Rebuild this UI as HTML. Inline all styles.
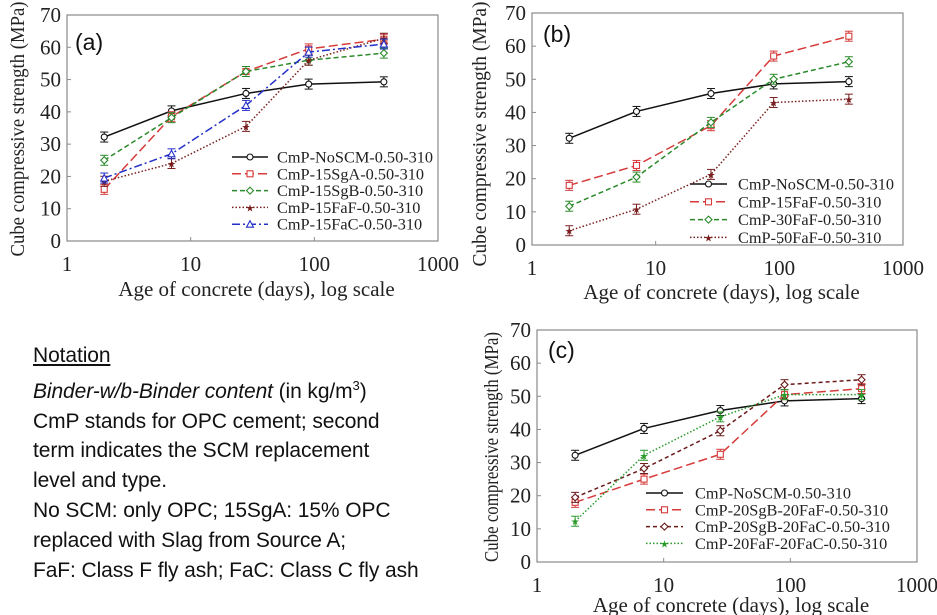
<!DOCTYPE html>
<html><head><meta charset="utf-8"><style>
html,body{margin:0;padding:0;background:#fff;}
svg{display:block;}
.notation{position:absolute;left:33px;top:341px;font-family:"Liberation Sans",Arial,sans-serif;font-size:21px;line-height:29.8px;color:#111;letter-spacing:-0.1px;}
</style></head><body>
<svg id="fig" width="937" height="615" xmlns="http://www.w3.org/2000/svg"></svg>
<div class="notation">
<div style="text-decoration:underline">Notation</div>
<div><i>Binder-w/b-Binder content</i> (in kg/m<sup style="font-size:13px">3</sup>)</div>
<div>CmP stands for OPC cement; second</div>
<div>term indicates the SCM replacement</div>
<div>level and type.</div>
<div>No SCM: only OPC; 15SgA: 15% OPC</div>
<div>replaced with Slag from Source A;</div>
<div>FaF: Class F fly ash; FaC: Class C fly ash</div>
</div>
<script>
const ages = [2, 7, 28, 90, 365];
const xTicks = [1, 10, 100, 1000];
const yTicks = [0, 10, 20, 30, 40, 50, 60, 70];
const noScm = [32.2, 40.3, 45.7, 48.6, 49.3];
const a15SgA = [16, 38.5, 52.5, 59.5, 62.5];
const a15SgB = [25, 38.2, 52.5, 56, 58.2];
const a15FaF = [18.5, 24, 35.5, 56, 62.8];
const a15FaC = [19.5, 27, 42, 58.5, 61];
const b15FaF = [18, 24, 36, 57, 63];
const b30FaF = [11.7, 20.5, 37, 50, 55.3];
const b50FaF = [4.3, 10.8, 21.3, 43, 44];
const c20SgB20FaF = [18, 25, 32.5, 50.5, 52.3];
const c20SgB20FaC = [19.5, 28.2, 39.6, 53.5, 55];
const c20FaF20FaC = [12.3, 32.2, 43.8, 50.5, 50.5];

const NS = "http://www.w3.org/2000/svg";
const svg = document.getElementById('fig');
function mk(tag, attrs, parent){const e=document.createElementNS(NS,tag);for(const k in attrs)e.setAttribute(k,attrs[k]);(parent||svg).appendChild(e);return e;}

const styles = {
  black:{c:"#111",d:"",m:"circle"},
  red:{c:"#d63a3a",d:"9,4",m:"square"},
  green:{c:"#2a8a2a",d:"5,3",m:"diamond"},
  brown:{c:"#7a2020",d:"1.5,2",m:"star"},
  blue:{c:"#2430c8",d:"8,3,2,3",m:"tri"},
  dred:{c:"#6b1a1a",d:"4,3",m:"diamond"},
  gdot:{c:"#2a9a2a",d:"1.5,2",m:"star"}
};

function marker(g,m,x,y,c){
  if(m==="circle") mk('circle',{cx:x,cy:y,r:3,fill:"#fff",stroke:c,'stroke-width':1.1},g);
  else if(m==="square") mk('rect',{x:x-3,y:y-3,width:6,height:6,fill:"#fff",stroke:c,'stroke-width':1.1},g);
  else if(m==="diamond") mk('polygon',{points:`${x},${y-3.5} ${x+3.5},${y} ${x},${y+3.5} ${x-3.5},${y}`,fill:"#fff",stroke:c,'stroke-width':1.1},g);
  else if(m==="tri") mk('polygon',{points:`${x},${y-3.5} ${x+3.5},${y+3} ${x-3.5},${y+3}`,fill:"#fff",stroke:c,'stroke-width':1.1},g);
  else { mk('text',{x:x,y:y+4,'text-anchor':'middle','font-size':10,fill:c},g).textContent="★"; }
}

function chart(cfg){
  const g = mk('g',{});
  
  
  const {L,R,T,B} = cfg;
  const xs = v => L + (Math.log10(v)-0)/3*(R-L);
  const ys = v => B - v/70*(B-T);
  mk('rect',{x:L,y:T,width:R-L,height:B-T,fill:"none",stroke:"#8a8a8a",'stroke-width':1.2},g);
  yTicks.forEach(t=>{
    mk('line',{x1:L,x2:L+4,y1:ys(t),y2:ys(t),stroke:"#8a8a8a"},g);
    const tx = mk('text',{x:L-6,y:ys(t)+7,'text-anchor':'end','font-family':'Liberation Serif,serif','font-size':21,fill:"#222"},g);
    tx.textContent=t;
  });
  xTicks.forEach(t=>{
    mk('line',{x1:xs(t),x2:xs(t),y1:B,y2:B-4,stroke:"#8a8a8a"},g);
    const tx = mk('text',{x:xs(t),y:B+30,'text-anchor':'middle','font-family':'Liberation Serif,serif','font-size':21,fill:"#222"},g);
    tx.textContent=t;
  });
  const xt = mk('text',{x:(L+R)/2+4,y:cfg.xtY,'text-anchor':'middle','font-family':'Liberation Serif,serif','font-size':21,fill:"#222"},g);
  
  
  xt.textContent="Age of concrete (days), log scale";
  const yt = mk('text',{x:0,y:0,'text-anchor':'middle','font-family':'Liberation Serif,serif','font-size':20,fill:"#222",textLength:cfg.ytLen,lengthAdjust:'spacingAndGlyphs',transform:`translate(${cfg.ytX},${cfg.ytC}) rotate(-90)`},g);
  
  
  yt.textContent="Cube compressive strength (MPa)";
  const pl = mk('text',{x:cfg.lab[0],y:cfg.lab[1],'font-family':'Liberation Sans,sans-serif','font-size':23,fill:"#111"},g);
  
  
  pl.textContent=cfg.label;
  cfg.series.forEach((s,i)=>{
    const st = styles[s.st];
    const sg = mk('g',{},g);
    
    
    const pts = ages.map((a,j)=>xs(a)+","+ys(s.vals[j])).join(" ");
    mk('polyline',{points:pts,fill:"none",stroke:st.c,'stroke-width':1.5,'stroke-dasharray':st.d},sg);
    ages.forEach((a,j)=>{
      const x=xs(a),y=ys(s.vals[j]);
      mk('line',{x1:x,x2:x,y1:y-5,y2:y+5,stroke:st.c,'stroke-width':1},sg);
      mk('line',{x1:x-4,x2:x+4,y1:y-5,y2:y-5,stroke:st.c,'stroke-width':1},sg);
      mk('line',{x1:x-4,x2:x+4,y1:y+5,y2:y+5,stroke:st.c,'stroke-width':1},sg);
      marker(sg,st.m,x,y,st.c);
    });
    const ly = cfg.leg.y + i*cfg.leg.dy;
    const lg = mk('g',{},g);
    
    
    mk('line',{x1:cfg.leg.x1,x2:cfg.leg.x2,y1:ly,y2:ly,stroke:st.c,'stroke-width':1.5,'stroke-dasharray':st.d},lg);
    marker(lg,st.m,(cfg.leg.x1+cfg.leg.x2)/2,ly,st.c);
    const lt = mk('text',{x:cfg.leg.tx,y:ly+5.5,'font-family':'Liberation Serif,serif','font-size':16.3,fill:"#222"},lg);
    lt.textContent=s.name;
  });
}

chart({name:"chart-a",L:67,R:438,T:15,B:241,xtY:296,ytX:24,ytC:129,ytLen:255,lab:[75,50],label:"(a)",
  leg:{x1:232,x2:268,tx:277,y:157,dy:16.8},
  series:[
    {name:"CmP-NoSCM-0.50-310",vals:noScm,st:"black"},
    {name:"CmP-15SgA-0.50-310",vals:a15SgA,st:"red"},
    {name:"CmP-15SgB-0.50-310",vals:a15SgB,st:"green"},
    {name:"CmP-15FaF-0.50-310",vals:a15FaF,st:"brown"},
    {name:"CmP-15FaC-0.50-310",vals:a15FaC,st:"blue"}]});
chart({name:"chart-b",L:532,R:903,T:13,B:245,xtY:299,ytX:486,ytC:134,ytLen:265,lab:[543,42],label:"(b)",
  leg:{x1:690,x2:727,tx:738,y:184,dy:17.8},
  series:[
    {name:"CmP-NoSCM-0.50-310",vals:noScm,st:"black"},
    {name:"CmP-15FaF-0.50-310",vals:b15FaF,st:"red"},
    {name:"CmP-30FaF-0.50-310",vals:b30FaF,st:"green"},
    {name:"CmP-50FaF-0.50-310",vals:b50FaF,st:"brown"}]});
chart({name:"chart-c",L:537,R:917,T:330,B:562,xtY:612,ytX:498,ytC:447,ytLen:230,lab:[548,358],label:"(c)",
  leg:{x1:646,x2:683,tx:695,y:493,dy:16.8},
  series:[
    {name:"CmP-NoSCM-0.50-310",vals:noScm,st:"black"},
    {name:"CmP-20SgB-20FaF-0.50-310",vals:c20SgB20FaF,st:"red"},
    {name:"CmP-20SgB-20FaC-0.50-310",vals:c20SgB20FaC,st:"dred"},
    {name:"CmP-20FaF-20FaC-0.50-310",vals:c20FaF20FaC,st:"gdot"}]});
</script>
</body></html>
